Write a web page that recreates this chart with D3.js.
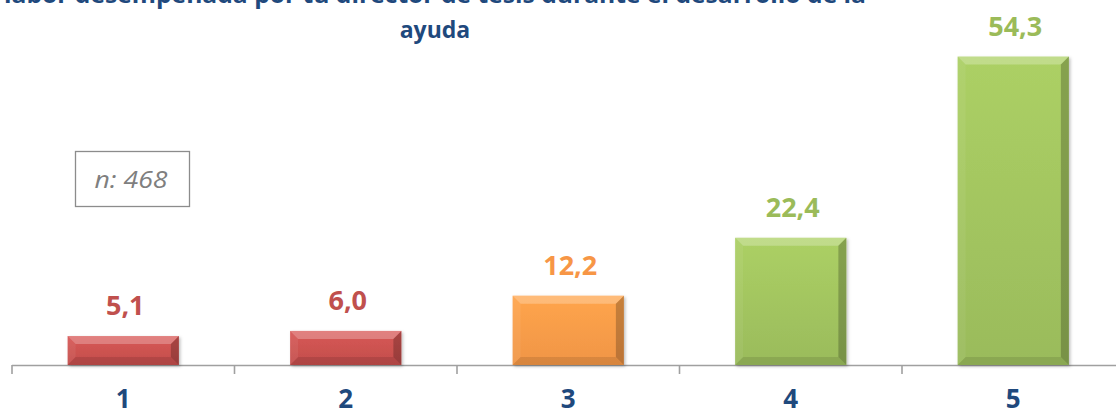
<!DOCTYPE html>
<html>
<head>
<meta charset="utf-8">
<script src="https://cdn.jsdelivr.net/npm/d3@7"></script>
<style>
  html, body { margin: 0; padding: 0; background: #ffffff; }
  svg { display: block; }
</style>
</head>
<body>
<svg id="chart" width="1116" height="412"></svg>
<script>
// ---- data ----
const categories = ["1", "2", "3", "4", "5"];
const values = [5.1, 6.0, 12.2, 22.4, 54.3];
const valueLabels = ["5,1", "6,0", "12,2", "22,4", "54,3"];
const titleLines = [
  "labor desempeñada por tu director de tesis durante el desarrollo de la",
  "ayuda"
];
const sampleNote = "n: 468";

// ---- styles ----
const palette = { red: "#C9514F", orange: "#F99A48", green: "#A0C25E" };
const labelPalette = { red: "#C0504D", orange: "#F79646", green: "#9BBB59" };
const groupOf = d3.scaleOrdinal().domain(categories).range(["red", "red", "orange", "green", "green"]);
const titleColor = "#1F497D";
const axisColor = "#A0A0A0";

const svg = d3.select("#chart");
const W = 1116, H = 412;
const baseY = 365;

const x = d3.scaleBand().domain(categories).range([12, 1124.5]).paddingInner(0.5).paddingOuter(0.25);
const y = d3.scaleLinear().domain([0, 60]).range([baseY, baseY - 60 * 5.68]);

// gradients
const defs = svg.append("defs");
Object.entries(palette).forEach(([k, c]) => {
  const g = defs.append("linearGradient").attr("id", "grad-" + k)
    .attr("x1", 0).attr("y1", 0).attr("x2", 0).attr("y2", 1);
  g.append("stop").attr("offset", "0%").attr("stop-color", d3.color(c).brighter(0.2));
  g.append("stop").attr("offset", "100%").attr("stop-color", d3.color(c).darker(0.1));
});
const filt = defs.append("filter").attr("id", "shadow").attr("x", "-10%").attr("y", "-10%").attr("width", "130%").attr("height", "130%");
filt.append("feDropShadow").attr("dx", 1.5).attr("dy", 1.5).attr("stdDeviation", 1.5).attr("flood-color", "#000").attr("flood-opacity", 0.25);

// title
const title = svg.append("g").attr("font-family", "'Open Sans', sans-serif").attr("font-weight", 700)
  .attr("font-size", 23).attr("fill", titleColor).attr("text-anchor", "middle");
title.append("text").attr("x", 435).attr("y", 3).attr("textLength", 862).attr("lengthAdjust", "spacingAndGlyphs").text(titleLines[0]);
title.append("text").attr("x", 435).attr("y", 38).text(titleLines[1]);

// axis line and ticks
const axisG = svg.append("g");
axisG.append("line").attr("x1", 12).attr("x2", W).attr("y1", baseY + 0.5).attr("y2", baseY + 0.5)
  .attr("stroke", axisColor).attr("stroke-width", 1.6);
const tickPos = categories.map(c => x(c) - x.step() * x.paddingInner() / 2).concat([x(categories[categories.length - 1]) + x.bandwidth() + x.step() * x.paddingInner() / 2]);
axisG.selectAll("line.tick").data(tickPos).join("line").attr("class", "tick")
  .attr("x1", d => d).attr("x2", d => d).attr("y1", baseY).attr("y2", baseY + 9)
  .attr("stroke", axisColor).attr("stroke-width", 1.6);

// bars
const data = categories.map((c, i) => ({ c, v: values[i], label: valueLabels[i], g: groupOf(c) }));
const bars = svg.append("g").selectAll("g.bar").data(data).join("g").attr("class", "bar");
bars.each(function(d) {
  const g = d3.select(this);
  const bx = x(d.c), bw = x.bandwidth();
  const by = y(d.v), bh = baseY - y(d.v);
  const b = Math.min(8, bh / 2);
  g.append("rect").attr("x", bx).attr("y", by).attr("width", bw).attr("height", bh)
    .attr("fill", "url(#grad-" + d.g + ")").attr("filter", "url(#shadow)");
  const poly = (pts, fill, op) => g.append("polygon").attr("points", pts.map(p => p.join(",")).join(" "))
    .attr("fill", fill).attr("fill-opacity", op);
  poly([[bx, by], [bx + bw, by], [bx + bw - b, by + b], [bx + b, by + b]], "#ffffff", 0.25);
  poly([[bx, by], [bx + b, by + b], [bx + b, by + bh - b], [bx, by + bh]], "#ffffff", 0.06);
  poly([[bx + bw, by], [bx + bw, by + bh], [bx + bw - b, by + bh - b], [bx + bw - b, by + b]], "#000000", 0.22);
  poly([[bx, by + bh], [bx + bw, by + bh], [bx + bw - b, by + bh - b], [bx + b, by + bh - b]], "#000000", 0.1);
});

// value labels
svg.append("g").selectAll("text").data(data).join("text")
  .attr("x", d => x(d.c) + x.bandwidth() / 2 + 2)
  .attr("y", d => y(d.v) - 21)
  .attr("text-anchor", "middle")
  .attr("font-family", "'Open Sans', sans-serif").attr("font-weight", 700).attr("font-size", 27)
  .attr("fill", d => labelPalette[d.g])
  .text(d => d.label);

// category labels
svg.append("g").selectAll("text").data(categories).join("text")
  .attr("x", d => x(d) + x.bandwidth() / 2)
  .attr("y", 408)
  .attr("text-anchor", "middle")
  .attr("font-family", "'Open Sans', sans-serif").attr("font-weight", 700).attr("font-size", 26)
  .attr("fill", titleColor)
  .text(d => d);

// n box
const nb = svg.append("g");
nb.append("rect").attr("x", 75.5).attr("y", 151.5).attr("width", 114).attr("height", 55)
  .attr("fill", "#fff").attr("stroke", "#8C8C8C").attr("stroke-width", 1.3);
nb.append("text").attr("x", 131).attr("y", 188).attr("text-anchor", "middle")
  .attr("font-family", "'Open Sans', sans-serif").attr("font-style", "italic").attr("font-size", 23)
  .attr("textLength", 73).attr("lengthAdjust", "spacingAndGlyphs")
  .attr("fill", "#7F7F7F").text(sampleNote);
</script>
</body>
</html>
